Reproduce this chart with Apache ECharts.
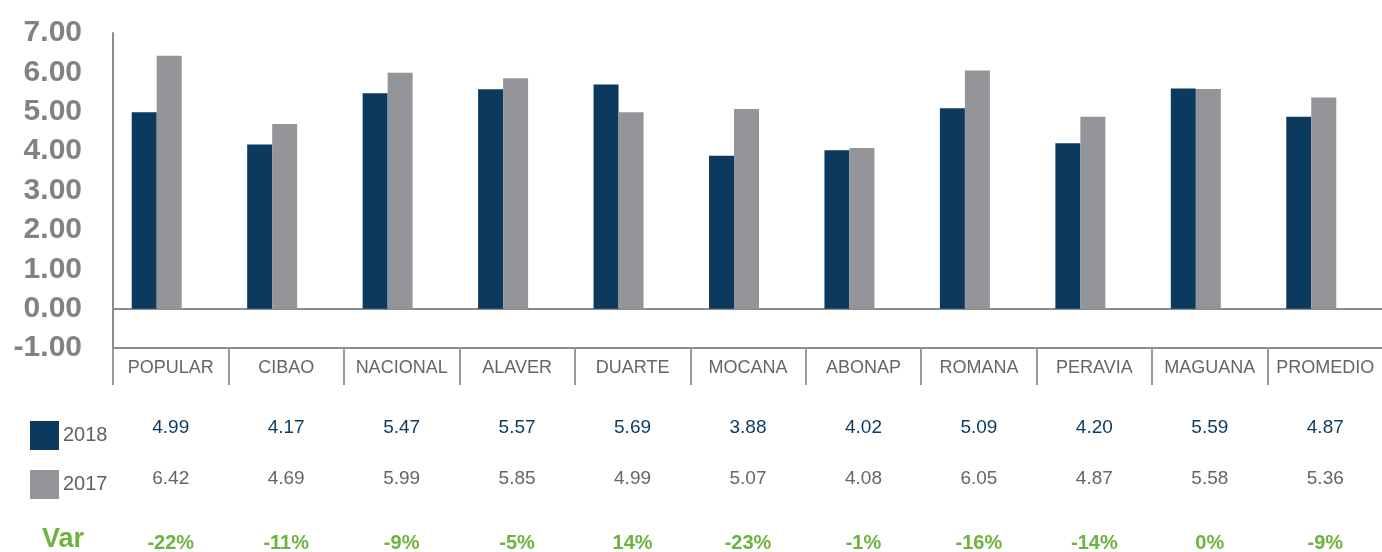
<!DOCTYPE html>
<html>
<head>
<meta charset="utf-8">
<script src="https://cdn.jsdelivr.net/npm/echarts@6/dist/echarts.min.js"></script>
<style>
  html, body { margin: 0; padding: 0; background: #fff; }
  #main { width: 1382px; height: 552px; }
</style>
</head>
<body>
<div id="main"></div>
<script>
  const categories = ['POPULAR', 'CIBAO', 'NACIONAL', 'ALAVER', 'DUARTE', 'MOCANA', 'ABONAP', 'ROMANA', 'PERAVIA', 'MAGUANA', 'PROMEDIO']
  const data2018 = [4.99, 4.17, 5.47, 5.57, 5.69, 3.88, 4.02, 5.09, 4.20, 5.59, 4.87]
  const data2017 = [6.42, 4.69, 5.99, 5.85, 4.99, 5.07, 4.08, 6.05, 4.87, 5.58, 5.36]
  const varPct = [-22, -11, -9, -5, 14, -23, -1, -16, -14, 0, -9]
  const yTicks = { min: -1, max: 7, interval: 1 }

  const NAVY = '#0b3a5e'
  const GREY = '#939598'
  const GREEN = '#6cb33f'
  const font = '"Liberation Sans", Arial, sans-serif'

  const plotTop = 33
  const plotH = 315
  const plotW = 1270

  // extra category axes used as the data table rows under the chart
  const rowAxis = (labels, offset, color, bold) => ({
    type: 'category',
    gridIndex: 0,
    position: 'bottom',
    data: labels,
    offset: offset,
    axisLine: { show: false, onZero: false },
    axisTick: { show: false },
    axisLabel: {
      interval: 0,
      margin: 0,
      verticalAlign: 'middle',
      color: color,
      fontSize: bold ? 20 : 19,
      fontWeight: bold ? 'bold' : 'normal',
      fontFamily: font,
    },
  })

  const chart = echarts.init(document.getElementById('main'))
  const option = {
    animation: false,
    legend: {
      data: ['2018', '2017'],
      orient: 'vertical',
      left: 25,
      top: 416,
      icon: 'rect',
      itemWidth: 29,
      itemHeight: 29,
      itemGap: 20,
      selectedMode: false,
      textStyle: { fontSize: 20, color: '#5f5f5f', fontFamily: font, padding: [0, 0, 3, -1] },
    },
    graphic: [
      {
        type: 'text',
        left: 42,
        top: 526,
        style: { text: 'Var', fontSize: 27, fontWeight: 'bold', fill: GREEN, fontFamily: font },
      },
    ],
    grid: [
      { left: 113, top: plotTop, width: plotW, height: plotH, outerBoundsMode: 'none' },
      // bars sit a little left of the category centre in the original
      { left: 99, top: plotTop, width: plotW, height: plotH, outerBoundsMode: 'none' },
    ],
    xAxis: [
      {
        type: 'category',
        gridIndex: 0,
        data: categories,
        position: 'bottom',
        axisLine: { onZero: false, lineStyle: { color: '#8c8c8c', width: 2 } },
        axisTick: { show: true, length: 37, lineStyle: { color: '#9a9a9a', width: 2 } },
        axisLabel: { interval: 0, margin: 11, color: '#666', fontSize: 18, fontFamily: font },
        splitLine: { show: false },
      },
      {
        // zero line
        type: 'category',
        gridIndex: 0,
        data: categories,
        position: 'bottom',
        axisLine: { onZero: true, lineStyle: { color: '#8c8c8c', width: 2 } },
        axisTick: { show: false },
        axisLabel: { show: false },
      },
      rowAxis(data2018.map((v) => v.toFixed(2)), 80, NAVY, false),
      rowAxis(data2017.map((v) => v.toFixed(2)), 131, '#666', false),
      rowAxis(varPct.map((v) => `${v}%`), 195, GREEN, true),
      { type: 'category', gridIndex: 1, data: categories, show: false },
    ],
    yAxis: [
      {
        type: 'value',
        gridIndex: 0,
        min: yTicks.min,
        max: yTicks.max,
        interval: yTicks.interval,
        axisLine: { show: true, lineStyle: { color: '#8c8c8c', width: 2 } },
        axisTick: { show: false },
        splitLine: { show: false },
        axisLabel: {
          margin: 31,
          color: '#808285',
          fontSize: 30,
          fontWeight: 'bold',
          fontFamily: font,
          formatter: (v) => v.toFixed(2),
        },
      },
      {
        type: 'value',
        gridIndex: 1,
        min: yTicks.min,
        max: yTicks.max,
        interval: yTicks.interval,
        show: false,
        splitLine: { show: false },
      },
    ],
    series: [
      {
        name: '2018',
        type: 'bar',
        xAxisIndex: 5,
        yAxisIndex: 1,
        barWidth: 25,
        barGap: '0%',
        itemStyle: { color: NAVY },
        data: data2018,
      },
      {
        name: '2017',
        type: 'bar',
        xAxisIndex: 5,
        yAxisIndex: 1,
        barWidth: 25,
        barGap: '0%',
        itemStyle: { color: GREY },
        data: data2017,
      },
    ],
  }
  chart.setOption(option)
</script>
</body>
</html>
